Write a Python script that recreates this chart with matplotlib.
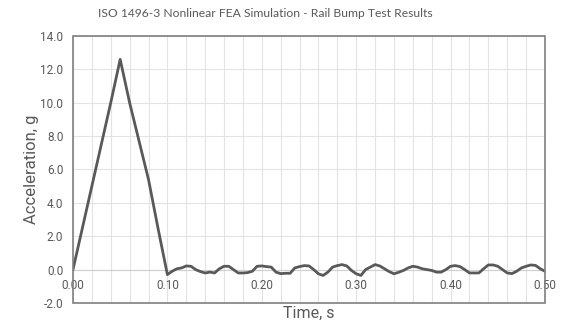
import matplotlib
matplotlib.use("Agg")
from matplotlib import pyplot as plt
from matplotlib.patches import Rectangle
from matplotlib.ticker import MultipleLocator, FormatStrFormatter

# 冲击段（0 ~ 0.10 s）
pulse_t = [0.00, 0.01, 0.02, 0.03, 0.04, 0.05, 0.06, 0.07, 0.08, 0.09]
pulse_g = [0.0, 2.5, 5.0, 7.5, 10.0, 12.6, 10.0, 7.7, 5.4, 2.5]

# 之后的残余振荡（0.10 ~ 0.50 s，每 0.005 s）
ring_g = [-0.30, -0.10, 0.05, 0.10, 0.22, 0.20, 0.00, -0.12, -0.20, -0.15,
          -0.20, 0.05, 0.20, 0.20, 0.00, -0.20, -0.20, -0.18, -0.10, 0.20,
          0.22, 0.18, 0.15, -0.15, -0.24, -0.22, -0.22, 0.10, 0.18, 0.24,
          0.22, 0.00, -0.25, -0.35, -0.15, 0.15, 0.24, 0.30, 0.22, -0.05,
          -0.25, -0.35, 0.00, 0.15, 0.30, 0.22, 0.05, -0.12, -0.25, -0.16,
          -0.05, 0.10, 0.20, 0.15, 0.05, 0.00, -0.05, -0.15, -0.15, 0.00,
          0.20, 0.24, 0.18, 0.00, -0.20, -0.20, -0.20, 0.05, 0.28, 0.28,
          0.20, 0.00, -0.20, -0.24, -0.10, 0.10, 0.20, 0.28, 0.25, 0.05,
          -0.10]
ring_t = [round(0.10 + 0.005 * i, 3) for i in range(len(ring_g))]

time = pulse_t + ring_t
accel = pulse_g + ring_g

title = "ISO 1496-3 Nonlinear FEA Simulation - Rail Bump Test Results"
xlabel = "Time, s"
ylabel = "Acceleration, g"

text_col = "#595959"
grid_col = "#e3e3e3"
border_col = "#7f7f7f"

fig = plt.figure(figsize=(5.64, 3.26), dpi=100)
ax = fig.add_axes([0.1294, 0.0706, 0.8369, 0.819])

ax.plot(time, accel, color="#595959", linewidth=2.0, solid_joinstyle="round", zorder=4)

ax.set_xlim(0, 0.5)
ax.set_ylim(-2, 14)
ax.xaxis.set_major_locator(MultipleLocator(0.1))
ax.xaxis.set_minor_locator(MultipleLocator(0.02))
ax.yaxis.set_major_locator(MultipleLocator(2))
ax.xaxis.set_major_formatter(FormatStrFormatter("%.2f"))
ax.yaxis.set_major_formatter(FormatStrFormatter("%.1f"))

ax.grid(True, which="both", axis="x", color=grid_col, linewidth=0.8)
ax.grid(True, which="major", axis="y", color=grid_col, linewidth=0.8)
ax.set_axisbelow(True)

# 横轴放在 y=0 处
for s in ["top", "right", "left"]:
    ax.spines[s].set_visible(False)
ax.spines["bottom"].set_position(("data", 0))
ax.spines["bottom"].set_color("#d0d0d0")
ax.spines["bottom"].set_linewidth(0.8)

ax.add_patch(Rectangle((0, 0), 1, 1, transform=ax.transAxes, fill=False,
                       edgecolor=border_col, linewidth=1.2, clip_on=False, zorder=5))

ax.tick_params(axis="both", which="both", length=0, labelsize=8.5, labelcolor=text_col)
ax.tick_params(axis="x", pad=7)
ax.tick_params(axis="y", pad=7)
for lab in ax.get_xticklabels() + ax.get_yticklabels():
    lab.set_family("Roboto")

ax.set_xlabel(xlabel, fontsize=11.5, color=text_col, family="Roboto")
ax.xaxis.set_label_coords(0.5, -0.012)
ax.set_ylabel(ylabel, fontsize=12, color=text_col, family="Roboto")
ax.yaxis.set_label_coords(-0.072, 0.5)

fig.suptitle(title, x=0.47, y=0.975, fontsize=8.7, color=text_col, family="Lato")

fig.savefig("out.png", dpi=100)
